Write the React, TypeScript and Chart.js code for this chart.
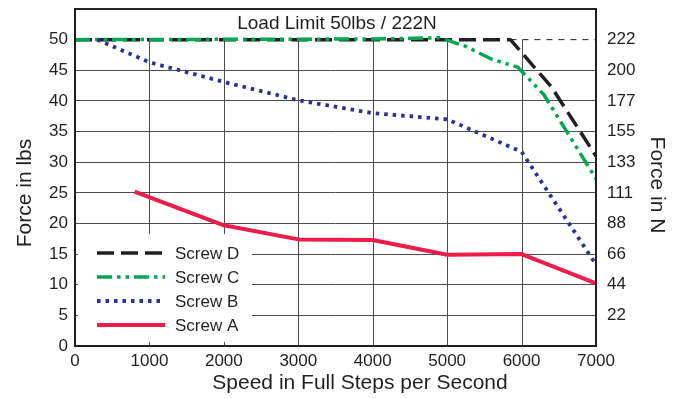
import React, { useEffect, useRef } from 'react';
import { Chart, registerables } from 'chart.js';

Chart.register(...registerables);

// ---- data ----
const speedTicks = [0, 1000, 2000, 3000, 4000, 5000, 6000, 7000];
const forceLbsTicks = [0, 5, 10, 15, 20, 25, 30, 35, 40, 45, 50];
const forceNLabels = ['', '22', '44', '66', '88', '111', '133', '155', '177', '200', '222'];

const screwASpeed = [800, 2000, 3000, 4000, 5000, 6000, 7000];
const screwAForce = [25.2, 19.7, 17.4, 17.3, 14.9, 15.0, 10.2];

const screwBSpeed = [300, 1000, 2000, 3000, 4000, 5000, 6000, 7000];
const screwBForce = [50, 46.3, 43.1, 40.1, 38.0, 37.0, 31.7, 13.3];

const screwCSpeed = [0, 4000, 4900, 5250, 5600, 5950, 6300, 7000];
const screwCForce = [50, 50.1, 50.3, 48.9, 46.8, 45.5, 41.0, 27.3];

const screwDSpeed = [0, 5850, 6400, 7000];
const screwDForce = [50, 50, 42.3, 31.0];

const limitSpeed = [5850, 7000];
const limitForce = [50, 50];

const titleText = 'Load Limit 50lbs / 222N';
const xTitle = 'Speed in Full Steps per Second';
const yTitle = 'Force in lbs';
const y2Title = 'Force in N';

// ---- styles ----
const FONT = "'Liberation Sans', Arial, Helvetica, sans-serif";
const INK = '#231f20';
const GRID = '#4d4d4d';

const seriesStyles = [
  { name: 'Screw D', color: '#231f20', dash: [17, 7], width: 3.5 },
  { name: 'Screw C', color: '#00a651', dash: [15, 5, 3.5, 5, 3.5, 5], width: 3.5 },
  { name: 'Screw B', color: '#2e3192', dash: [3.5, 5], width: 3.8 },
  { name: 'Screw A', color: '#ed1c4a', dash: [], width: 4 },
];

const pts = (xs: number[], ys: number[]) => xs.map((x, i) => ({ x, y: ys[i] }));

const decorPlugin = {
  id: 'decor',
  beforeDatasetsDraw(chart: any) {
    const { ctx, scales } = chart;
    const x = scales.x;
    const y = scales.y;
    ctx.save();
    ctx.strokeStyle = GRID;
    ctx.lineWidth = 1;
    for (const v of speedTicks) {
      if (v === speedTicks[0] || v === speedTicks[speedTicks.length - 1]) continue;
      const px = Math.round(x.getPixelForValue(v)) + 0.5;
      ctx.beginPath();
      ctx.moveTo(px, y.getPixelForValue(50));
      ctx.lineTo(px, y.getPixelForValue(0));
      ctx.stroke();
    }
    // legend background
    ctx.fillStyle = '#ffffff';
    ctx.fillRect(78, 234, 174, 108);
    ctx.restore();
  },
  afterDraw(chart: any) {
    const { ctx, chartArea } = chart;
    ctx.save();
    // frame
    ctx.strokeStyle = INK;
    ctx.lineWidth = 2;
    ctx.strokeRect(chartArea.left, chartArea.top, chartArea.right - chartArea.left, chartArea.bottom - chartArea.top);

    // legend
    const rows = [253, 277, 301, 325];
    seriesStyles.forEach((s, i) => {
      const yy = rows[i];
      ctx.beginPath();
      ctx.strokeStyle = s.color;
      ctx.lineWidth = s.width;
      ctx.setLineDash(s.dash);
      ctx.lineCap = 'butt';
      ctx.moveTo(97, yy);
      ctx.lineTo(165, yy);
      ctx.stroke();
      ctx.setLineDash([]);
      ctx.fillStyle = INK;
      ctx.font = `17px ${FONT}`;
      ctx.textAlign = 'left';
      ctx.textBaseline = 'middle';
      ctx.fillText(s.name, 175, yy + 1);
    });

    // chart title inside plot
    ctx.fillStyle = INK;
    ctx.font = `19px ${FONT}`;
    ctx.textAlign = 'center';
    ctx.textBaseline = 'middle';
    ctx.fillText(titleText, 337, 24);

    // x title
    ctx.font = `21px ${FONT}`;
    ctx.fillText(xTitle, 360, 383);

    // left y title
    ctx.save();
    ctx.translate(25, 193);
    ctx.rotate(-Math.PI / 2);
    ctx.fillText(yTitle, 0, 0);
    ctx.restore();

    // right y title
    ctx.save();
    ctx.translate(657, 185);
    ctx.rotate(Math.PI / 2);
    ctx.fillText(y2Title, 0, 0);
    ctx.restore();

    ctx.restore();
  },
};

export default function App() {
  const ref = useRef<HTMLCanvasElement>(null);

  useEffect(() => {
    document.body.style.margin = '0';
    const canvas = ref.current;
    if (!canvas) return;
    const ds = (data: any[], st: any, extra: any = {}) => ({
      data,
      borderColor: st.color,
      backgroundColor: st.color,
      borderWidth: st.width,
      borderDash: st.dash,
      borderCapStyle: 'butt',
      borderJoinStyle: 'round',
      pointRadius: 0,
      fill: false,
      tension: 0,
      ...extra,
    });
    const chart = new Chart(canvas, {
      type: 'line',
      data: {
        datasets: [
          ds(pts(screwASpeed, screwAForce), seriesStyles[3], { label: 'Screw A' }),
          ds(pts(screwBSpeed, screwBForce), seriesStyles[2], { label: 'Screw B' }),
          ds(pts(screwCSpeed, screwCForce), seriesStyles[1], { label: 'Screw C' }),
          ds(pts(screwDSpeed, screwDForce), seriesStyles[0], { label: 'Screw D' }),
          ds(pts(limitSpeed, limitForce), { color: INK, dash: [6, 6], width: 1 }, { label: 'Load Limit' }),
        ],
      },
      options: {
        responsive: false,
        animation: false,
        events: [],
        layout: { padding: { top: 9, left: 0, right: 0, bottom: 0 } },
        plugins: {
          legend: { display: false },
          tooltip: { enabled: false },
          title: { display: false },
        },
        scales: {
          x: {
            type: 'linear',
            min: speedTicks[0],
            max: speedTicks[speedTicks.length - 1],
            afterBuildTicks: (s: any) => {
              s.ticks = speedTicks.map((v) => ({ value: v }));
            },
            afterFit: (s: any) => {
              s.height = 52;
              s.paddingLeft = 0;
              s.paddingRight = 0;
            },
            grid: { display: false, drawTicks: false },
            border: { display: false },
            ticks: {
              color: INK,
              font: { family: FONT, size: 17 },
              padding: 5,
              maxRotation: 0,
              autoSkip: false,
              callback: (v: any) => String(v),
            },
          },
          y: {
            type: 'linear',
            position: 'left',
            min: 0,
            max: 55,
            afterBuildTicks: (s: any) => {
              s.ticks = [...forceLbsTicks, 55].map((v) => ({ value: v }));
            },
            afterFit: (s: any) => {
              s.width = 75;
              s.paddingTop = 0;
              s.paddingBottom = 0;
            },
            grid: {
              drawTicks: false,
              lineWidth: 1,
              color: (c: any) =>
                c.tick && (c.tick.value === 0 || c.tick.value >= 50) ? 'rgba(0,0,0,0)' : GRID,
            },
            border: { display: false },
            ticks: {
              color: INK,
              font: { family: FONT, size: 17 },
              padding: 7,
              autoSkip: false,
              callback: (v: any) => (forceLbsTicks.includes(v) ? String(v) : ''),
            },
          },
          y2: {
            type: 'linear',
            position: 'right',
            min: 0,
            max: 55,
            afterBuildTicks: (s: any) => {
              s.ticks = [...forceLbsTicks, 55].map((v) => ({ value: v }));
            },
            afterFit: (s: any) => {
              s.width = 89;
              s.paddingTop = 0;
              s.paddingBottom = 0;
            },
            grid: { display: false, drawTicks: false },
            border: { display: false },
            ticks: {
              color: INK,
              font: { family: FONT, size: 17 },
              padding: 11,
              autoSkip: false,
              callback: (v: any) => {
                const i = forceLbsTicks.indexOf(v);
                return i >= 0 ? forceNLabels[i] : '';
              },
            },
          },
        },
      },
      plugins: [decorPlugin],
    } as any);
    return () => chart.destroy();
  }, []);

  return (
    <div style={{ width: 685, height: 398 }}>
      <canvas ref={ref} width={685} height={398} style={{ display: 'block', width: 685, height: 398 }} />
    </div>
  );
}
